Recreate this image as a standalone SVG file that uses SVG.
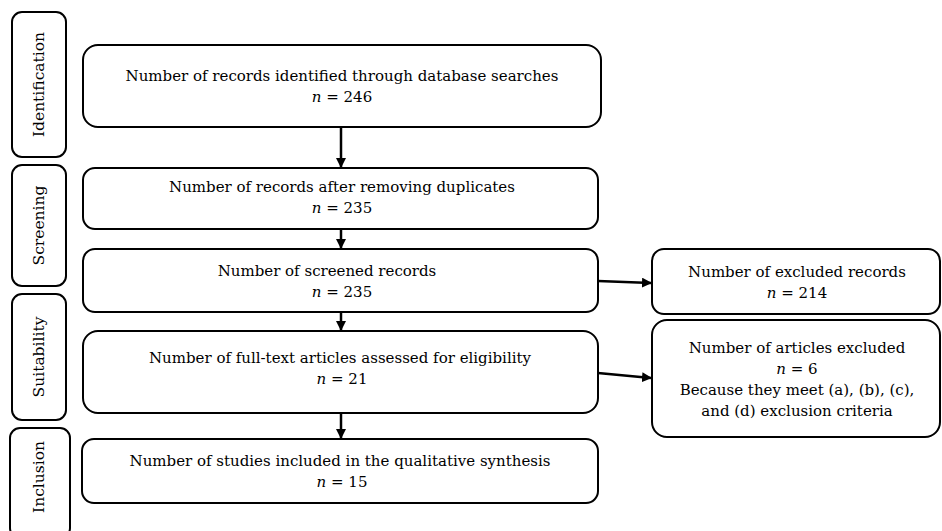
<svg xmlns="http://www.w3.org/2000/svg" width="942" height="531" viewBox="0 0 942 531">
<defs>
<marker id="ah" markerWidth="10" markerHeight="10" refX="9" refY="5" orient="auto" markerUnits="userSpaceOnUse"><path d="M0,0 L10,5 L0,10 z" fill="#000"/></marker>
<style>
.b{fill:#fff;stroke:#000;stroke-width:2}
.t{font-family:"DejaVu Serif","Liberation Serif",serif;font-size:15px;fill:#000;text-anchor:middle}
.s{font-family:"DejaVu Serif","Liberation Serif",serif;font-size:15.5px;fill:#000;text-anchor:middle}
.c{stroke:#000;stroke-width:2.5;fill:none;marker-end:url(#ah)}
</style>
</defs>
<rect width="942" height="531" fill="#fff"/>
<g id="stage-identification"><rect class="b" x="12" y="12" width="54" height="145" rx="10"/><text class="s" transform="translate(44,84.5) rotate(-90)">Identification</text></g>
<g id="stage-screening"><rect class="b" x="12" y="165" width="54" height="121" rx="10"/><text class="s" transform="translate(44,225.5) rotate(-90)">Screening</text></g>
<g id="stage-suitability"><rect class="b" x="12" y="294" width="54" height="126" rx="10"/><text class="s" transform="translate(44,357) rotate(-90)">Suitability</text></g>
<g id="stage-inclusion"><rect class="b" x="10" y="428" width="60" height="110" rx="10"/><text class="s" transform="translate(44,477) rotate(-90)">Inclusion</text></g>
<g id="n1"><rect class="b" x="83" y="45" width="518" height="82" rx="15"/><text class="t" x="342" y="81">Number of records identified through database searches</text><text class="t" x="342" y="102"><tspan font-style="italic">n</tspan> = 246</text></g>
<g id="n2"><rect class="b" x="83" y="168" width="515" height="61" rx="12"/><text class="t" x="342" y="192">Number of records after removing duplicates</text><text class="t" x="342" y="213"><tspan font-style="italic">n</tspan> = 235</text></g>
<g id="n3"><rect class="b" x="83" y="249" width="515" height="63" rx="12"/><text class="t" x="327" y="276">Number of screened records</text><text class="t" x="342" y="297"><tspan font-style="italic">n</tspan> = 235</text></g>
<g id="n4"><rect class="b" x="83" y="331" width="515" height="82" rx="15"/><text class="t" x="340" y="363">Number of full-text articles assessed for eligibility</text><text class="t" x="342" y="384"><tspan font-style="italic">n</tspan> = 21</text></g>
<g id="n5"><rect class="b" x="82" y="439" width="516" height="64" rx="12"/><text class="t" x="340" y="466">Number of studies included in the qualitative synthesis</text><text class="t" x="342" y="487"><tspan font-style="italic">n</tspan> = 15</text></g>
<g id="x1"><rect class="b" x="652" y="249" width="288" height="65" rx="12"/><text class="t" x="797" y="277">Number of excluded records</text><text class="t" x="797" y="298"><tspan font-style="italic">n</tspan> = 214</text></g>
<g id="x2"><rect class="b" x="652" y="320" width="288" height="117" rx="15"/><text class="t" x="797" y="353">Number of articles excluded</text><text class="t" x="797" y="374"><tspan font-style="italic">n</tspan> = 6</text><text class="t" x="797" y="395">Because they meet (a), (b), (c),</text><text class="t" x="797" y="416">and (d) exclusion criteria</text></g>
<g id="connectors">
<line class="c" x1="341" y1="127" x2="341" y2="167"/>
<line class="c" x1="341" y1="229" x2="341" y2="248"/>
<line class="c" x1="341" y1="312" x2="341" y2="330"/>
<line class="c" x1="341" y1="413" x2="341" y2="438"/>
<line class="c" x1="598" y1="281" x2="651" y2="283"/>
<line class="c" x1="598" y1="373" x2="651" y2="378"/>
</g>
</svg>
